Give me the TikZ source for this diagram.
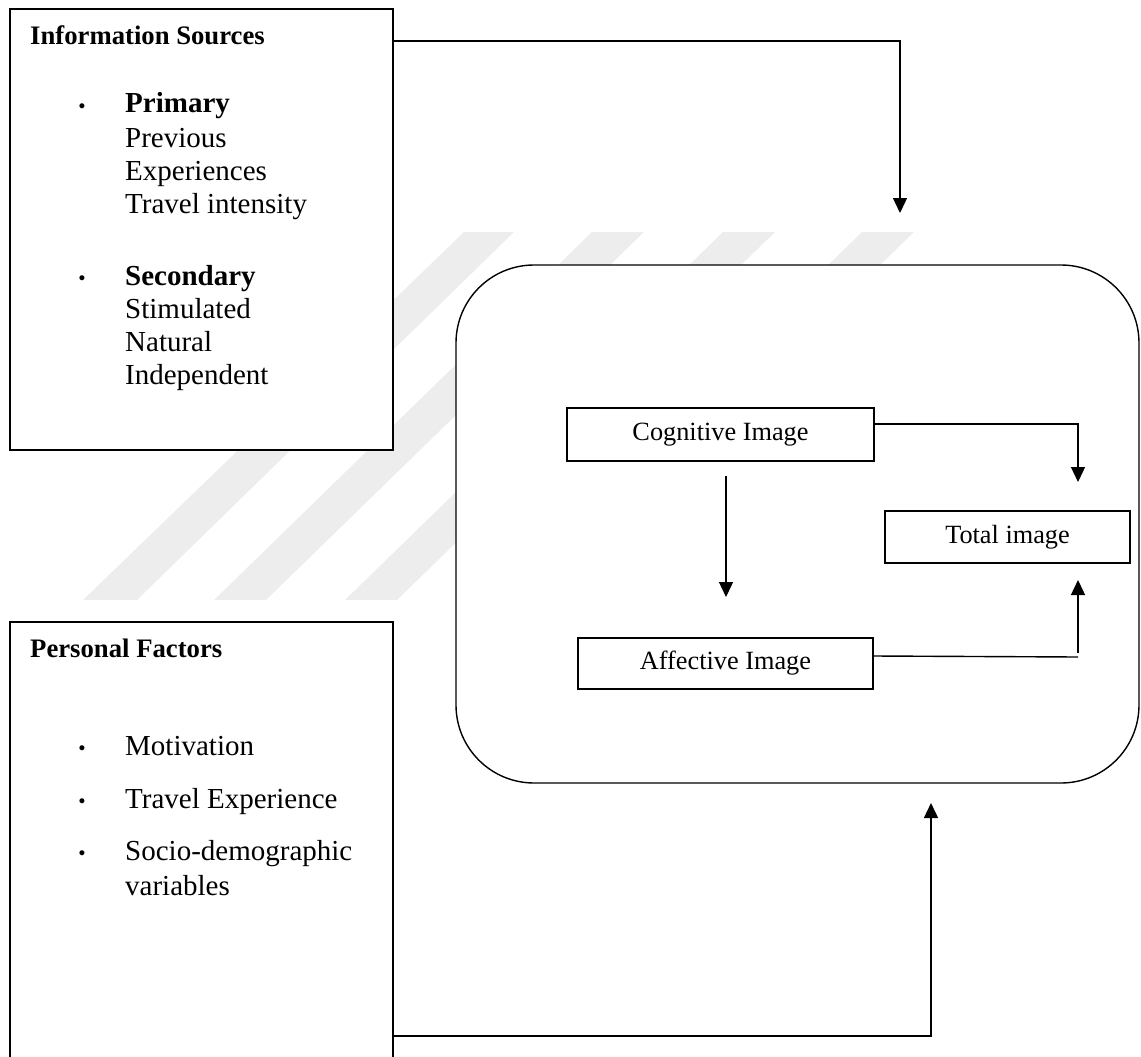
\documentclass[tikz,border=0pt]{standalone}
\usepackage{fontspec}
\setmainfont{Liberation Serif}
\usetikzlibrary{arrows.meta,calc}
\begin{document}
\begin{tikzpicture}[x=1pt,y=-1pt,
  frame/.style={draw, line width=1.4pt, fill=white, inner sep=0pt, outer sep=0pt},
  imgbox/.style={frame, font=\fontsize{26.3}{30}\selectfont},
  headtxt/.style={anchor=base west, inner sep=0pt, font=\fontsize{26.7}{30}\selectfont\bfseries},
  bodytxt/.style={anchor=base west, inner sep=0pt, font=\fontsize{29}{33}\selectfont},
  boldtxt/.style={bodytxt, font=\fontsize{29}{33}\selectfont\bfseries},
  dot/.style={anchor=base, inner sep=0pt, font=\fontsize{31}{33}\selectfont\bfseries},
  link/.style={line width=1.4pt},
  arr/.style={link, -{Triangle[length=15pt,width=14pt]}},
  stripe/.style={fill=black!7, draw=none}]
\useasboundingbox (0,0) rectangle (1141,1057);

% faint diagonal background bands
\fill[stripe] (464,232) -- (514,232) -- (137,600) -- (83,600) -- cycle;
\fill[stripe] (592,232) -- (644,232) -- (266,600) -- (214,600) -- cycle;
\fill[stripe] (723,232) -- (775,232) -- (397,600) -- (345,600) -- cycle;
\fill[stripe] (862,232) -- (914,232) -- (536,600) -- (484,600) -- cycle;

% outer boxes
\node[frame, anchor=north west, minimum width=383pt, minimum height=441pt] (info) at (10,9) {};
\node[frame, anchor=north west, minimum width=383pt, minimum height=450pt] (pers) at (10,622) {};
\node[frame, rounded corners=78pt, anchor=north west, minimum width=683pt, minimum height=518pt] (img) at (456,265) {};

% image components
\node[imgbox, anchor=north west, minimum width=307pt, minimum height=53pt] (cog) at (567,408) {Cognitive Image};
\node[imgbox, anchor=north west, minimum width=245pt, minimum height=52pt] (tot) at (885,511) {Total image};
\node[imgbox, anchor=north west, minimum width=295pt, minimum height=51pt] (aff) at (578,638) {Affective Image};

% information sources
\node[headtxt] (infoT) at (30,45) {Information Sources};
\node[dot] (b1) at (82,116) {·};
\node[boldtxt] (i1) at (125,113) {Primary};
\node[bodytxt] (i2) at (125,147) {Previous};
\node[bodytxt] (i3) at (125,180) {Experiences};
\node[bodytxt] (i4) at (125,213) {Travel intensity};
\node[dot] (b2) at (82,288) {·};
\node[boldtxt] (i5) at (125,285) {Secondary};
\node[bodytxt] (i6) at (125,318) {Stimulated};
\node[bodytxt] (i7) at (125,351) {Natural};
\node[bodytxt] (i8) at (125,384) {Independent};

% personal factors
\node[headtxt] (persT) at (30,657) {Personal Factors};
\node[dot] (b3) at (82,758) {·};
\node[bodytxt] (f1) at (125,755) {Motivation};
\node[dot] (b4) at (82,811) {·};
\node[bodytxt] (f2) at (125,808) {Travel Experience};
\node[dot] (b5) at (82,863) {·};
\node[bodytxt] (f3) at (125,860) {Socio-demographic};
\node[bodytxt] (f4) at (125,895) {variables};

% connector ends
\coordinate (tipA) at (900,213);
\coordinate (tipB) at (1078,482);
\coordinate (startC) at (726,476);
\coordinate (tipC) at (726,597);
\coordinate (cornerD) at (1078,657);
\coordinate (startD) at (1078,653);
\coordinate (tipD) at (1078,580);
\coordinate (tipE) at (931,803);

% connectors
\draw[arr] ($(info.north east)+(0,32)$) -| (tipA);
\draw[arr] ($(cog.north east)+(0,16)$) -| (tipB);
\draw[arr] (startC) -- (tipC);
\draw[link] ($(aff.north east)+(0,18)$) -- (cornerD);
\draw[arr] (startD) -- (tipD);
\draw[arr] ($(pers.north east)+(0,414)$) -| (tipE);
\end{tikzpicture}
\end{document}
